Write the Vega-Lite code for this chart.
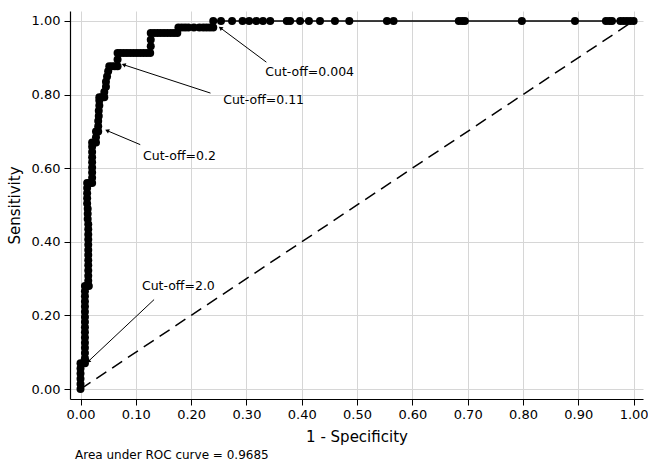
{
  "$schema": "https://vega.github.io/schema/vega-lite/v6.json",
  "width": 573,
  "height": 388,
  "autosize": "none",
  "padding": {"left": 70, "top": 11, "right": 5, "bottom": 62},
  "background": "white",
  "config": {
    "font": "DejaVu Sans",
    "view": {"stroke": null},
    "axis": {
      "grid": true,
      "gridColor": "#d6d6d6",
      "gridWidth": 1,
      "domainColor": "#000000",
      "domainWidth": 1.2,
      "tickColor": "#000000",
      "tickSize": 6,
      "labelFontSize": 13,
      "labelColor": "#000000",
      "titleFontSize": 15,
      "titleFontWeight": "normal",
      "titleColor": "#000000",
      "labelFont": "DejaVu Sans",
      "titleFont": "DejaVu Sans"
    }
  },
  "title": {
    "text": "Area under ROC curve = 0.9685",
    "orient": "bottom",
    "anchor": "start",
    "fontSize": 12,
    "fontWeight": "normal",
    "font": "DejaVu Sans",
    "color": "#000000",
    "offset": 6,
    "dx": 68
  },
  "datasets": {
    "roc": [
      {"i": 1, "x": 0.000, "y": 0.000},
      {"i": 2, "x": 0.000, "y": 0.014},
      {"i": 3, "x": 0.000, "y": 0.028},
      {"i": 4, "x": 0.000, "y": 0.042},
      {"i": 5, "x": 0.000, "y": 0.056},
      {"i": 6, "x": 0.000, "y": 0.070},
      {"i": 7, "x": 0.004, "y": 0.070},
      {"i": 8, "x": 0.008, "y": 0.070},
      {"i": 9, "x": 0.008, "y": 0.084},
      {"i": 10, "x": 0.008, "y": 0.098},
      {"i": 11, "x": 0.008, "y": 0.112},
      {"i": 12, "x": 0.008, "y": 0.126},
      {"i": 13, "x": 0.008, "y": 0.140},
      {"i": 14, "x": 0.008, "y": 0.154},
      {"i": 15, "x": 0.008, "y": 0.168},
      {"i": 16, "x": 0.008, "y": 0.182},
      {"i": 17, "x": 0.008, "y": 0.196},
      {"i": 18, "x": 0.008, "y": 0.210},
      {"i": 19, "x": 0.008, "y": 0.224},
      {"i": 20, "x": 0.008, "y": 0.238},
      {"i": 21, "x": 0.008, "y": 0.252},
      {"i": 22, "x": 0.008, "y": 0.266},
      {"i": 23, "x": 0.008, "y": 0.280},
      {"i": 24, "x": 0.012, "y": 0.280},
      {"i": 25, "x": 0.015, "y": 0.280},
      {"i": 26, "x": 0.014, "y": 0.294},
      {"i": 27, "x": 0.014, "y": 0.308},
      {"i": 28, "x": 0.014, "y": 0.322},
      {"i": 29, "x": 0.014, "y": 0.336},
      {"i": 30, "x": 0.014, "y": 0.350},
      {"i": 31, "x": 0.014, "y": 0.364},
      {"i": 32, "x": 0.014, "y": 0.378},
      {"i": 33, "x": 0.014, "y": 0.392},
      {"i": 34, "x": 0.014, "y": 0.406},
      {"i": 35, "x": 0.014, "y": 0.420},
      {"i": 36, "x": 0.014, "y": 0.434},
      {"i": 37, "x": 0.014, "y": 0.448},
      {"i": 38, "x": 0.013, "y": 0.462},
      {"i": 39, "x": 0.013, "y": 0.476},
      {"i": 40, "x": 0.013, "y": 0.490},
      {"i": 41, "x": 0.012, "y": 0.504},
      {"i": 42, "x": 0.012, "y": 0.518},
      {"i": 43, "x": 0.012, "y": 0.532},
      {"i": 44, "x": 0.012, "y": 0.546},
      {"i": 45, "x": 0.012, "y": 0.560},
      {"i": 46, "x": 0.017, "y": 0.560},
      {"i": 47, "x": 0.021, "y": 0.560},
      {"i": 48, "x": 0.021, "y": 0.574},
      {"i": 49, "x": 0.021, "y": 0.588},
      {"i": 50, "x": 0.021, "y": 0.602},
      {"i": 51, "x": 0.021, "y": 0.616},
      {"i": 52, "x": 0.021, "y": 0.630},
      {"i": 53, "x": 0.021, "y": 0.644},
      {"i": 54, "x": 0.021, "y": 0.658},
      {"i": 55, "x": 0.021, "y": 0.670},
      {"i": 56, "x": 0.025, "y": 0.670},
      {"i": 57, "x": 0.028, "y": 0.670},
      {"i": 58, "x": 0.028, "y": 0.684},
      {"i": 59, "x": 0.028, "y": 0.700},
      {"i": 60, "x": 0.032, "y": 0.700},
      {"i": 61, "x": 0.032, "y": 0.714},
      {"i": 62, "x": 0.032, "y": 0.728},
      {"i": 63, "x": 0.033, "y": 0.742},
      {"i": 64, "x": 0.033, "y": 0.756},
      {"i": 65, "x": 0.034, "y": 0.770},
      {"i": 66, "x": 0.034, "y": 0.784},
      {"i": 67, "x": 0.034, "y": 0.793},
      {"i": 68, "x": 0.038, "y": 0.793},
      {"i": 69, "x": 0.043, "y": 0.793},
      {"i": 70, "x": 0.043, "y": 0.807},
      {"i": 71, "x": 0.046, "y": 0.821},
      {"i": 72, "x": 0.046, "y": 0.835},
      {"i": 73, "x": 0.048, "y": 0.849},
      {"i": 74, "x": 0.050, "y": 0.863},
      {"i": 75, "x": 0.052, "y": 0.877},
      {"i": 76, "x": 0.057, "y": 0.877},
      {"i": 77, "x": 0.062, "y": 0.877},
      {"i": 78, "x": 0.067, "y": 0.877},
      {"i": 79, "x": 0.067, "y": 0.895},
      {"i": 80, "x": 0.067, "y": 0.913},
      {"i": 81, "x": 0.072, "y": 0.913},
      {"i": 82, "x": 0.078, "y": 0.913},
      {"i": 83, "x": 0.084, "y": 0.913},
      {"i": 84, "x": 0.090, "y": 0.913},
      {"i": 85, "x": 0.096, "y": 0.913},
      {"i": 86, "x": 0.102, "y": 0.913},
      {"i": 87, "x": 0.108, "y": 0.913},
      {"i": 88, "x": 0.114, "y": 0.913},
      {"i": 89, "x": 0.120, "y": 0.913},
      {"i": 90, "x": 0.126, "y": 0.913},
      {"i": 91, "x": 0.127, "y": 0.931},
      {"i": 92, "x": 0.127, "y": 0.949},
      {"i": 93, "x": 0.127, "y": 0.967},
      {"i": 94, "x": 0.133, "y": 0.967},
      {"i": 95, "x": 0.139, "y": 0.967},
      {"i": 96, "x": 0.145, "y": 0.967},
      {"i": 97, "x": 0.151, "y": 0.967},
      {"i": 98, "x": 0.157, "y": 0.967},
      {"i": 99, "x": 0.163, "y": 0.967},
      {"i": 100, "x": 0.169, "y": 0.967},
      {"i": 101, "x": 0.175, "y": 0.967},
      {"i": 102, "x": 0.177, "y": 0.982},
      {"i": 103, "x": 0.183, "y": 0.982},
      {"i": 104, "x": 0.189, "y": 0.982},
      {"i": 105, "x": 0.195, "y": 0.982},
      {"i": 106, "x": 0.205, "y": 0.982},
      {"i": 107, "x": 0.215, "y": 0.982},
      {"i": 108, "x": 0.222, "y": 0.982},
      {"i": 109, "x": 0.228, "y": 0.982},
      {"i": 110, "x": 0.234, "y": 0.982},
      {"i": 111, "x": 0.240, "y": 0.982},
      {"i": 112, "x": 0.240, "y": 1.000},
      {"i": 113, "x": 0.254, "y": 1.000},
      {"i": 114, "x": 0.274, "y": 1.000},
      {"i": 115, "x": 0.293, "y": 1.000},
      {"i": 116, "x": 0.305, "y": 1.000},
      {"i": 117, "x": 0.318, "y": 1.000},
      {"i": 118, "x": 0.330, "y": 1.000},
      {"i": 119, "x": 0.343, "y": 1.000},
      {"i": 120, "x": 0.373, "y": 1.000},
      {"i": 121, "x": 0.379, "y": 1.000},
      {"i": 122, "x": 0.397, "y": 1.000},
      {"i": 123, "x": 0.413, "y": 1.000},
      {"i": 124, "x": 0.433, "y": 1.000},
      {"i": 125, "x": 0.460, "y": 1.000},
      {"i": 126, "x": 0.486, "y": 1.000},
      {"i": 127, "x": 0.554, "y": 1.000},
      {"i": 128, "x": 0.566, "y": 1.000},
      {"i": 129, "x": 0.684, "y": 1.000},
      {"i": 130, "x": 0.690, "y": 1.000},
      {"i": 131, "x": 0.695, "y": 1.000},
      {"i": 132, "x": 0.798, "y": 1.000},
      {"i": 133, "x": 0.894, "y": 1.000},
      {"i": 134, "x": 0.950, "y": 1.000},
      {"i": 135, "x": 0.956, "y": 1.000},
      {"i": 136, "x": 0.961, "y": 1.000},
      {"i": 137, "x": 0.976, "y": 1.000},
      {"i": 138, "x": 0.982, "y": 1.000},
      {"i": 139, "x": 0.988, "y": 1.000},
      {"i": 140, "x": 0.994, "y": 1.000},
      {"i": 141, "x": 1.000, "y": 1.000}
    ],
    "ann": [
      {"label": "Cut-off=0.004", "tx": 0.334, "ty": 0.862, "x1": 0.336, "y1": 0.888, "x2": 0.253, "y2": 0.981},
      {"label": "Cut-off=0.11", "tx": 0.258, "ty": 0.786, "x1": 0.235, "y1": 0.804, "x2": 0.078, "y2": 0.881},
      {"label": "Cut-off=0.2", "tx": 0.113, "ty": 0.632, "x1": 0.108, "y1": 0.664, "x2": 0.048, "y2": 0.702},
      {"label": "Cut-off=2.0", "tx": 0.111, "ty": 0.281, "x1": 0.133, "y1": 0.243, "x2": 0.014, "y2": 0.075}
    ]
  },
  "layer": [
    {
      "data": {"values": [{"x": 0, "y": 0, "x2": 1, "y2": 1}]},
      "mark": {"type": "rule", "color": "#000000", "strokeWidth": 1.5, "strokeDash": [12, 7]},
      "encoding": {
        "x": {"field": "x", "type": "quantitative", "scale": {"domain": [-0.019, 1.017], "nice": false, "zero": false},
          "axis": {"values": [0, 0.1, 0.2, 0.3, 0.4, 0.5, 0.6, 0.7, 0.8, 0.9, 1.0], "format": ".2f", "title": "1 - Specificity", "labelPadding": 3, "titlePadding": 8}},
        "y": {"field": "y", "type": "quantitative", "scale": {"domain": [-0.027, 1.027], "nice": false, "zero": false},
          "axis": {"values": [0, 0.1, 0.2, 0.3, 0.4, 0.5, 0.6, 0.7, 0.8, 0.9, 1.0], "format": ".2f", "title": "Sensitivity", "labelPadding": 4, "titlePadding": 9}},
        "x2": {"field": "x2"},
        "y2": {"field": "y2"}
      }
    },
    {
      "data": {"name": "roc"},
      "mark": {"type": "line", "color": "#000000", "strokeWidth": 1.4},
      "encoding": {
        "x": {"field": "x", "type": "quantitative"},
        "y": {"field": "y", "type": "quantitative"},
        "order": {"field": "i", "type": "quantitative"}
      }
    },
    {
      "data": {"name": "roc"},
      "mark": {"type": "point", "filled": true, "color": "#000000", "opacity": 1, "size": 64},
      "encoding": {
        "x": {"field": "x", "type": "quantitative"},
        "y": {"field": "y", "type": "quantitative"}
      }
    },
    {
      "data": {"name": "ann"},
      "mark": {"type": "rule", "color": "#000000", "strokeWidth": 1},
      "encoding": {
        "x": {"field": "x1", "type": "quantitative"},
        "y": {"field": "y1", "type": "quantitative"},
        "x2": {"field": "x2"},
        "y2": {"field": "y2"}
      }
    },
    {
      "data": {"name": "ann"},
      "mark": {"type": "text", "align": "left", "baseline": "middle", "fontSize": 12.5, "color": "#000000", "font": "DejaVu Sans"},
      "encoding": {
        "x": {"field": "tx", "type": "quantitative"},
        "y": {"field": "ty", "type": "quantitative"},
        "text": {"field": "label"}
      }
    },
    {
      "data": {"name": "ann"},
      "transform": [{"filter": "datum.label == 'Cut-off=0.004'"}],
      "mark": {"type": "point", "shape": "triangle-up", "filled": true, "color": "#000000", "opacity": 1, "size": 22, "angle": 306.6},
      "encoding": {"x": {"field": "x2", "type": "quantitative"}, "y": {"field": "y2", "type": "quantitative"}}
    },
    {
      "data": {"name": "ann"},
      "transform": [{"filter": "datum.label == 'Cut-off=0.11'"}],
      "mark": {"type": "point", "shape": "triangle-up", "filled": true, "color": "#000000", "opacity": 1, "size": 22, "angle": 288},
      "encoding": {"x": {"field": "x2", "type": "quantitative"}, "y": {"field": "y2", "type": "quantitative"}}
    },
    {
      "data": {"name": "ann"},
      "transform": [{"filter": "datum.label == 'Cut-off=0.2'"}],
      "mark": {"type": "point", "shape": "triangle-up", "filled": true, "color": "#000000", "opacity": 1, "size": 22, "angle": 292.8},
      "encoding": {"x": {"field": "x2", "type": "quantitative"}, "y": {"field": "y2", "type": "quantitative"}}
    },
    {
      "data": {"name": "ann"},
      "transform": [{"filter": "datum.label == 'Cut-off=2.0'"}],
      "mark": {"type": "point", "shape": "triangle-up", "filled": true, "color": "#000000", "opacity": 1, "size": 22, "angle": 226.8},
      "encoding": {"x": {"field": "x2", "type": "quantitative"}, "y": {"field": "y2", "type": "quantitative"}}
    }
  ]
}
